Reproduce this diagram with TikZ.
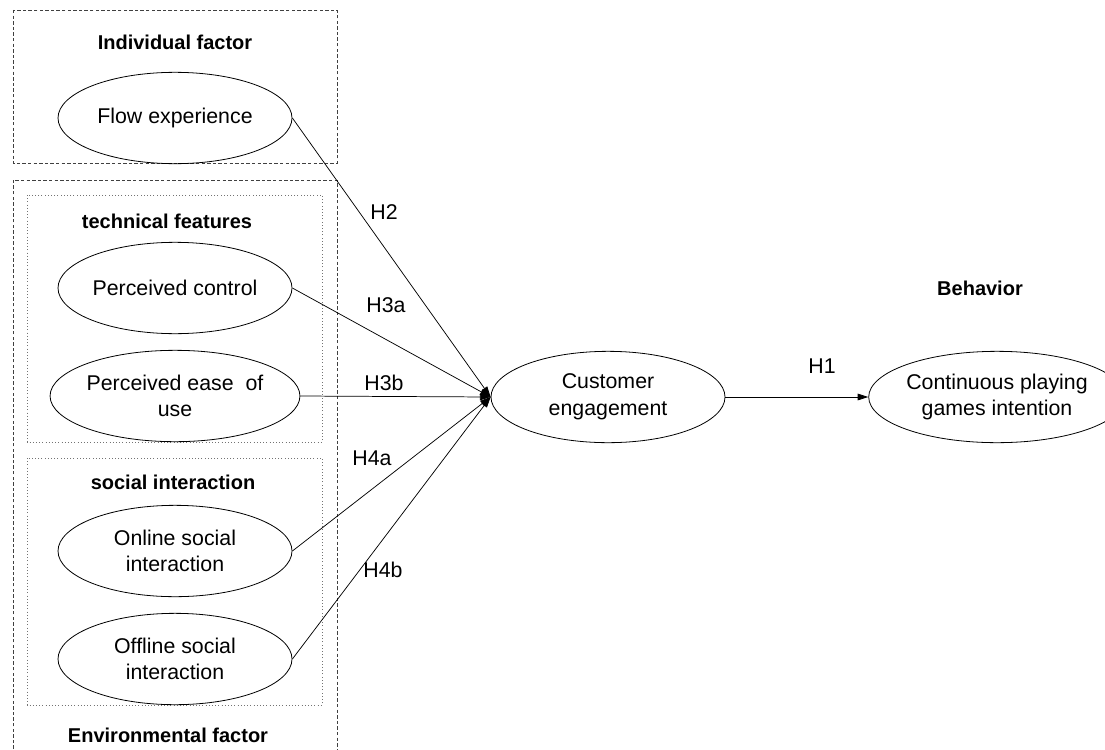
\documentclass[tikz,border=0pt]{standalone}
\usepackage{fontspec}
\setmainfont{Liberation Sans}
\usetikzlibrary{shapes.geometric,arrows.meta}
\tikzset{
  factorbox/.style={draw=black!75, line width=0.6pt, dash pattern=on 2.6pt off 1.6pt},
  groupbox/.style={draw=black!55, line width=0.55pt, dash pattern=on 0.6pt off 1.8pt},
  construct/.style={draw, ellipse, line width=0.6pt, minimum width=175.5pt, minimum height=68.5pt, inner sep=0pt, align=center, font=\fontsize{16}{20}\selectfont},
  grouplabel/.style={font=\fontsize{15}{18}\selectfont\bfseries, inner sep=0pt},
  hlabel/.style={font=\fontsize{16}{18}\selectfont, inner sep=0pt},
  hyp/.style={line width=0.55pt, -{Triangle[length=8pt,width=5pt]}}
}
\begin{document}
\begin{tikzpicture}[x=0.75pt,y=-0.75pt]
\useasboundingbox (0,0) rectangle (1105,749);
\clip (0,0) rectangle (1105,749);
\fill[white] (0,0) rectangle (1105,749);
% boxes
\draw[factorbox] (13,10) rectangle (337,163);
\draw[factorbox] (13,760) -- (13,180) -- (337,180) -- (337,760);
\draw[groupbox] (27,195) rectangle (322,442);
\draw[groupbox] (27,458) rectangle (322,705);
% group labels
\node[grouplabel] (lind) at (175,42) {Individual factor};
\node[grouplabel] (ltech) at (167,221) {technical features};
\node[grouplabel] (lsoc) at (173,482) {social interaction};
\node[grouplabel] (lenv) at (168,735) {Environmental factor};
\node[grouplabel] (lbeh) at (980,288) {Behavior};
% constructs
\node[construct] (flow) at (175,118) {Flow experience};
\node[construct] (ctrl) at (175,288) {Perceived control};
\node[construct] (ease) at (175,396) {Perceived ease\ \ of\\use};
\node[construct] (online) at (175,551) {Online social\\interaction};
\node[construct] (offline) at (175,659) {Offline social\\interaction};
\node[construct] (ce) at (608,397) {Customer\\engagement};
\node[construct] (cp) at (997,397) {Continuous playing\\games intention};
% hypotheses
\draw[hyp] (flow.east) -- (ce.west);
\draw[hyp] (ctrl.east) -- (ce.west);
\draw[hyp] (ease.east) -- (ce.west);
\draw[hyp] (online.east) -- (ce.west);
\draw[hyp] (offline.east) -- (ce.west);
\draw[hyp] (ce.east) -- (cp.west);
% hypothesis labels
\node[hlabel] (h2) at (384,212) {H2};
\node[hlabel] (h3a) at (386,305) {H3a};
\node[hlabel] (h3b) at (384,383) {H3b};
\node[hlabel] (h4a) at (372,458) {H4a};
\node[hlabel] (h4b) at (383,570) {H4b};
\node[hlabel] (h1) at (822,366) {H1};
\end{tikzpicture}
\end{document}
